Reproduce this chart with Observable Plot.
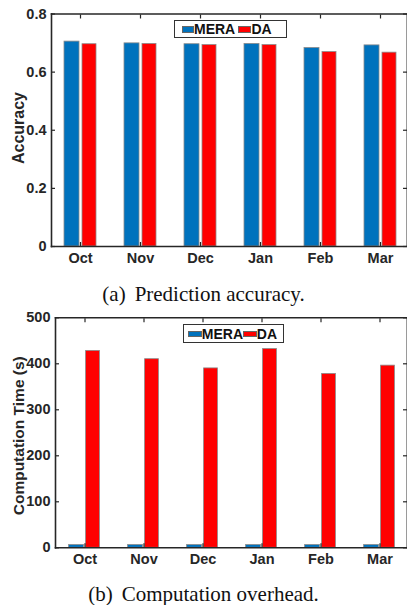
<!DOCTYPE html>
<html>
<head>
<meta charset="utf-8">
<script src="https://cdn.jsdelivr.net/npm/d3@7"></script>
<script src="https://cdn.jsdelivr.net/npm/@observablehq/plot@0.6"></script>
<style>
  body { margin: 0; background: #fff; width: 407px; height: 605px; position: relative; overflow: hidden; }
  .abs { position: absolute; }
  .cap { position: absolute; left: 0; width: 407px; text-align: center; font-family: "Liberation Serif", "Times New Roman", serif; font-size: 21px; line-height: 21px; color: #111; white-space: nowrap; }
  .cap .lab { margin-right: 9px; }
  .ylab { position: absolute; width: 200px; text-align: center; font-family: "Liberation Sans", Arial, sans-serif; font-weight: bold; color: #262626; transform: rotate(-90deg); transform-origin: 50% 50%; white-space: nowrap; }
  .legend { position: absolute; box-sizing: border-box; border: 1px solid #333; background: #fff; font-family: "Liberation Sans", Arial, sans-serif; font-weight: bold; font-size: 14px; color: #111; }
  .legend .sw { position: absolute; border: 0.5px solid #666; box-sizing: border-box; }
  .legend .tx { position: absolute; line-height: 14px; }
</style>
</head>
<body>
<script>
// ---- data ----
const months = ["Oct", "Nov", "Dec", "Jan", "Feb", "Mar"];
const series = ["MERA", "DA"];
const colors = ["#0072BD", "#FF0000"];
const meraAccuracy = [0.705, 0.699, 0.696, 0.697, 0.683, 0.692];
const daAccuracy   = [0.696, 0.697, 0.693, 0.693, 0.669, 0.667];
const meraTime = [6, 6, 6, 6, 6, 6];
const daTime   = [428, 410, 390, 432, 378, 396];
const accTicks = [0, 0.2, 0.4, 0.6, 0.8];
const timeTicks = [0, 100, 200, 300, 400, 500];
const labelA = "Accuracy";
const labelB = "Computation Time (s)";
const captionA = ["(a)", "Prediction accuracy."];
const captionB = ["(b)", "Computation overhead."];

const tableA = months.map((m, i) => ({month: m, mera: meraAccuracy[i], da: daAccuracy[i]}));
const tableB = months.map((m, i) => ({month: m, mera: meraTime[i], da: daTime[i]}));

const ink = "#262626";

function chart({table, ticks, yMax, height, mTop, mBottom, mLeft, xRange, insets}) {
  return Plot.plot({
    width: 407,
    height,
    marginTop: mTop,
    marginBottom: mBottom,
    marginLeft: mLeft,
    marginRight: 1,
    style: {fontFamily: "'Liberation Sans', Arial, sans-serif", fontWeight: "bold", fontSize: "14.5px", color: ink, background: "transparent", overflow: "visible"},
    x: {domain: months, range: xRange, padding: 0, label: null},
    y: {domain: [0, yMax], label: null},
    marks: [
      Plot.barY(table, {x: "month", y: "mera", fill: colors[0], stroke: "#8a8a8a", strokeWidth: 0.8, insetLeft: insets[0], insetRight: insets[1]}),
      Plot.barY(table, {x: "month", y: "da", fill: colors[1], stroke: "#8a8a8a", strokeWidth: 0.8, insetLeft: insets[2], insetRight: insets[3]}),
      Plot.frame({anchor: "right", stroke: "#9a9a9a", strokeWidth: 1}),
      Plot.frame({anchor: "left", stroke: ink, strokeWidth: 1.6}),
      Plot.frame({anchor: "top", stroke: ink, strokeWidth: 1.6}),
      Plot.frame({anchor: "bottom", stroke: ink, strokeWidth: 1.6}),
      Plot.axisY({anchor: "left", ticks, tickSize: 0, tickPadding: 5, tickFormat: d => String(d), label: null}),
      Plot.axisY({anchor: "left", ticks, tickSize: 4, text: null, label: null, dx: 4, stroke: ink, strokeWidth: 1.2}),
      Plot.axisY({anchor: "right", ticks, tickSize: 4, text: null, label: null, dx: -4, stroke: ink, strokeWidth: 1.2}),
      Plot.axisX({anchor: "bottom", tickSize: 0, tickPadding: 6, label: null}),
      Plot.axisX({anchor: "bottom", tickSize: 4, text: null, label: null, dy: -4, stroke: ink, strokeWidth: 1.2}),
      Plot.axisX({anchor: "top", tickSize: 4, text: null, label: null, dy: 4, stroke: ink, strokeWidth: 1.2})
    ]
  });
}

function place(el, top) {
  const d = document.createElement("div");
  d.className = "abs";
  d.style.left = "0px";
  d.style.top = top + "px";
  d.appendChild(el);
  document.body.appendChild(d);
}

function ylabel(text, cx, cy, size) {
  const d = document.createElement("div");
  d.className = "ylab";
  d.style.fontSize = size + "px";
  d.style.lineHeight = size + "px";
  d.style.height = size + "px";
  d.style.left = (cx - 100) + "px";
  d.style.top = (cy - size / 2) + "px";
  d.textContent = text;
  document.body.appendChild(d);
}

function caption(parts, top) {
  const d = document.createElement("div");
  d.className = "cap";
  d.style.top = top + "px";
  const s = document.createElement("span");
  s.className = "lab";
  s.textContent = parts[0];
  d.appendChild(s);
  d.appendChild(document.createTextNode(parts[1]));
  document.body.appendChild(d);
}

function legend(box, items) {
  const d = document.createElement("div");
  d.className = "legend";
  d.style.left = box.left + "px"; d.style.top = box.top + "px";
  d.style.width = box.w + "px"; d.style.height = box.h + "px";
  series.forEach((name, i) => {
    const it = items[i];
    const sw = document.createElement("div");
    sw.className = "sw";
    sw.style.left = it.sx + "px"; sw.style.top = it.sy + "px";
    sw.style.width = it.sw + "px"; sw.style.height = it.sh + "px";
    sw.style.background = colors[i];
    d.appendChild(sw);
    const tx = document.createElement("div");
    tx.className = "tx";
    tx.style.left = it.tx + "px"; tx.style.top = it.ty + "px";
    tx.textContent = name;
    d.appendChild(tx);
  });
  document.body.appendChild(d);
}

place(chart({table: tableA, ticks: accTicks, yMax: 0.8, height: 275, mTop: 13.5, mBottom: 29, mLeft: 51, xRange: [50, 410], insets: [14, 31, 32, 14]}), 0);
place(chart({table: tableB, ticks: timeTicks, yMax: 500, height: 275, mTop: 17.3, mBottom: 27.7, mLeft: 55, xRange: [54.4, 409.6], insets: [13.6, 30.6, 30.6, 14.6]}), 300);

ylabel(labelA, 18.5, 127.5, 16);
ylabel(labelB, 18.8, 435.8, 15.5);

legend({left: 173.5, top: 19.5, w: 113, h: 18}, [
  {sx: 7, sy: 5.5, sw: 12, sh: 7, tx: 19.5, ty: 1.5},
  {sx: 63.5, sy: 5.5, sw: 13, sh: 7, tx: 77, ty: 1.5}
]);
legend({left: 183.3, top: 324, w: 101, h: 18.5}, [
  {sx: 3.5, sy: 5.5, sw: 14, sh: 6, tx: 17.5, ty: 1.5},
  {sx: 59, sy: 5.5, sw: 13.5, sh: 6, tx: 72.5, ty: 1.5}
]);

caption(captionA, 284);
caption(captionB, 584);
</script>
</body>
</html>
